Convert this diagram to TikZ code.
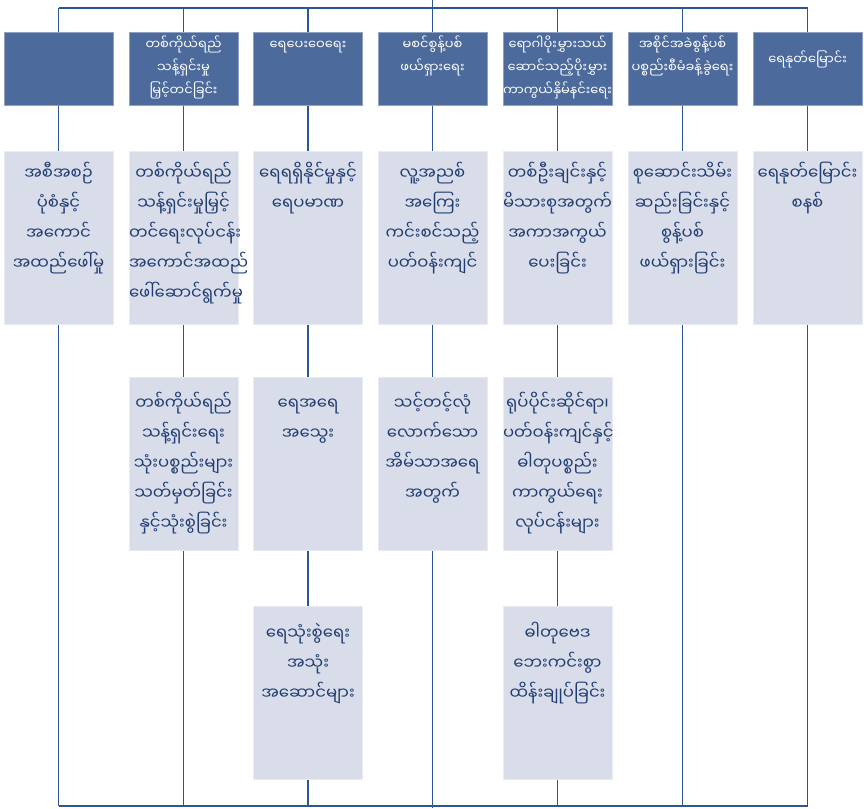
\documentclass[tikz,border=0pt]{standalone}
\usepackage{fontspec}
\newfontfamily\mmfont[Script=Myanmar]{Noto Sans Myanmar UI}
\definecolor{hdrfill}{HTML}{4C6A9C}
\definecolor{hdredge}{HTML}{8FA2C4}
\definecolor{boxfill}{HTML}{D9DDEA}
\definecolor{boxedge}{HTML}{E8EBF3}
\definecolor{boxtext}{HTML}{1E3C72}
\definecolor{linkcol}{HTML}{2C5593}
\tikzset{
  hdr/.style={rectangle, fill=hdrfill, draw=hdredge, line width=0.6pt, inner sep=0pt,
    minimum width=109pt, minimum height=73pt, anchor=north},
  item/.style={rectangle, fill=boxfill, draw=boxedge, line width=0.6pt, inner sep=0pt,
    minimum width=109pt, minimum height=173pt, anchor=north},
  % captions: fixed strut on the first line so every caption hangs from the same height
  hdrtext/.style={anchor=north, inner sep=0pt, align=center, text width=109pt, text=white,
    font=\mmfont\fontsize{13}{23}\selectfont,
    execute at begin node={\baselineskip=23pt\rule{0pt}{14pt}}},
  itemtext/.style={anchor=north, inner sep=0pt, align=center, text width=109pt, text=boxtext,
    font=\mmfont\fontsize{16.5}{30}\selectfont,
    execute at begin node={\baselineskip=30pt\rule{0pt}{18pt}}},
  link/.style={draw=linkcol, line width=1.4pt},
  bar/.style={draw=linkcol, line width=2pt}
}
\begin{document}
\begin{tikzpicture}[x=1pt,y=-1pt]
\useasboundingbox (0,0) rectangle (864,808);

% top and bottom rails
\coordinate (top) at (432.5,0);
\coordinate (foot) at (432.5,808);
\foreach \i/\x in {1/58.5,2/183.5,3/308,4/432.5,5/557.5,6/682.5,7/807.5}{
  \coordinate (t\i) at (\x,8.5);
  \coordinate (b\i) at (\x,805.5);
}
\draw[bar] (t1) -- (t7);
\draw[bar] (b1) -- (b7);
\draw[link] (top) -- (t4);
\draw[link] (b4) -- (foot);

% header boxes
\node[hdr] (h1) at (58.5,32) {};
\node[hdr] (h2) at (183.5,32) {};
\node[hdr] (h3) at (308,32) {};
\node[hdr] (h4) at (432.5,32) {};
\node[hdr] (h5) at (557.5,32) {};
\node[hdr] (h6) at (682.5,32) {};
\node[hdr] (h7) at (807.5,32) {};

% content boxes, three rows
\node[item] (a1) at (58.5,151) {};
\node[item] (a2) at (183.5,151) {};
\node[item] (a3) at (308,151) {};
\node[item] (a4) at (432.5,151) {};
\node[item] (a5) at (557.5,151) {};
\node[item] (a6) at (682.5,151) {};
\node[item] (a7) at (807.5,151) {};
\node[item] (m2) at (183.5,377) {};
\node[item] (m3) at (308,377) {};
\node[item] (m4) at (432.5,377) {};
\node[item] (m5) at (557.5,377) {};
\node[item] (z3) at (308,606) {};
\node[item] (z5) at (557.5,606) {};

% vertical links of each column
\draw[link] (t1) -- (h1.north) (h1.south) -- (a1.north) (a1.south) -- (b1);
\draw[link] (t2) -- (h2.north) (h2.south) -- (a2.north) (a2.south) -- (m2.north) (m2.south) -- (b2);
\draw[link] (t3) -- (h3.north) (h3.south) -- (a3.north) (a3.south) -- (m3.north) (m3.south) -- (z3.north) (z3.south) -- (b3);
\draw[link] (t4) -- (h4.north) (h4.south) -- (a4.north) (a4.south) -- (m4.north) (m4.south) -- (b4);
\draw[link] (t5) -- (h5.north) (h5.south) -- (a5.north) (a5.south) -- (m5.north) (m5.south) -- (z5.north) (z5.south) -- (b5);
\draw[link] (t6) -- (h6.north) (h6.south) -- (a6.north) (a6.south) -- (b6);
\draw[link] (t7) -- (h7.north) (h7.south) -- (a7.north) (a7.south) -- (b7);

% header captions
\node[hdrtext] (h2t) at ([yshift=-3.5pt]h2.north) {တစ်ကိုယ်ရည်\\သန့်ရှင်းမှု\\မြှင့်တင်ခြင်း};
\node[hdrtext] (h3t) at ([yshift=-3.5pt]h3.north) {ရေပေးဝေရေး};
\node[hdrtext] (h4t) at ([yshift=-3.5pt]h4.north) {မစင်စွန့်ပစ်\\ဖယ်ရှားရေး};
\node[hdrtext] (h5t) at ([yshift=-3.5pt]h5.north) {ရောဂါပိုးမွှားသယ်\\ဆောင်သည့်ပိုးမွှား\\ကာကွယ်နှိမ်နင်းရေး};
\node[hdrtext] (h6t) at ([yshift=-3.5pt]h6.north) {အစိုင်အခဲစွန့်ပစ်\\ပစ္စည်းစီမံခန့်ခွဲရေး};
\node[hdrtext] (h7t) at ([yshift=-18.5pt]h7.north) {ရေနုတ်မြောင်း};

% box captions
\node[itemtext] (a1t) at ([yshift=-10pt]a1.north) {အစီအစဉ်\\ပုံစံနှင့်\\အကောင်\\အထည်ဖေါ်မှု};
\node[itemtext] (a2t) at ([yshift=-10pt]a2.north) {တစ်ကိုယ်ရည်\\သန့်ရှင်းမှုမြှင့်\\တင်ရေးလုပ်ငန်း\\အကောင်အထည်\\ဖေါ်ဆောင်ရွက်မှု};
\node[itemtext] (a3t) at ([yshift=-10pt]a3.north) {ရေရရှိနိုင်မှုနှင့်\\ရေပမာဏ};
\node[itemtext] (a4t) at ([yshift=-10pt]a4.north) {လူ့အညစ်\\အကြေး\\ကင်းစင်သည့်\\ပတ်ဝန်းကျင်};
\node[itemtext] (a5t) at ([yshift=-10pt]a5.north) {တစ်ဦးချင်းနှင့်\\မိသားစုအတွက်\\အကာအကွယ်\\ပေးခြင်း};
\node[itemtext] (a6t) at ([yshift=-10pt]a6.north) {စုဆောင်းသိမ်း\\ဆည်းခြင်းနှင့်\\စွန့်ပစ်\\ဖယ်ရှားခြင်း};
\node[itemtext] (a7t) at ([yshift=-10pt]a7.north) {ရေနုတ်မြောင်း\\စနစ်};
\node[itemtext] (m2t) at ([yshift=-14pt]m2.north) {တစ်ကိုယ်ရည်\\သန့်ရှင်းရေး\\သုံးပစ္စည်းများ\\သတ်မှတ်ခြင်း\\နှင့်သုံးစွဲခြင်း};
\node[itemtext] (m3t) at ([yshift=-14pt]m3.north) {ရေအရေ\\အသွေး};
\node[itemtext] (m4t) at ([yshift=-14pt]m4.north) {သင့်တင့်လုံ\\လောက်သော\\အိမ်သာအရေ\\အတွက်};
\node[itemtext] (m5t) at ([yshift=-14pt]m5.north) {ရုပ်ပိုင်းဆိုင်ရာ၊\\ပတ်ဝန်းကျင်နှင့်\\ဓါတုပစ္စည်း\\ကာကွယ်ရေး\\လုပ်ငန်းများ};
\node[itemtext] (z3t) at ([yshift=-15pt]z3.north) {ရေသုံးစွဲရေး\\အသုံး\\အဆောင်များ};
\node[itemtext] (z5t) at ([yshift=-15pt]z5.north) {ဓါတုဗေဒ\\ဘေးကင်းစွာ\\ထိန်းချုပ်ခြင်း};
\end{tikzpicture}
\end{document}
